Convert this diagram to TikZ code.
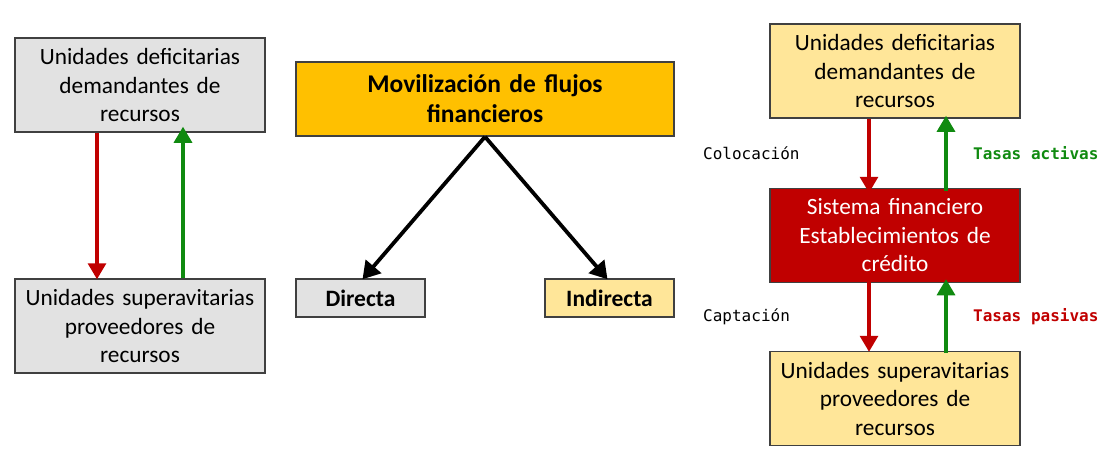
\documentclass[tikz,border=0pt]{standalone}
\usepackage{fontspec}
\setmainfont{Carlito}
\newfontfamily\monofont{DejaVu Sans Mono}
\usetikzlibrary{arrows.meta}
\definecolor{boxgray}{HTML}{E2E2E2}
\definecolor{boxyellow}{HTML}{FFE699}
\definecolor{boxorange}{HTML}{FFC000}
\definecolor{boxred}{HTML}{C00000}
\definecolor{arrred}{HTML}{C00000}
\definecolor{arrgreen}{HTML}{108A10}
\definecolor{edge}{HTML}{404040}
\tikzset{
  card/.style={draw=edge, line width=1.5pt, minimum width=250pt, minimum height=94pt,
    text width=246pt, align=center, inner sep=0pt,
    font=\fontsize{23.3}{28.5}\selectfont},
  graycard/.style={card, fill=boxgray},
  yellowcard/.style={card, fill=boxyellow},
  redcard/.style={card, fill=boxred, text=white},
  titlecard/.style={draw=edge, line width=1.5pt, fill=boxorange, minimum width=378pt,
    minimum height=74pt, text width=370pt, align=center, inner sep=0pt,
    font=\fontsize{25.5}{30}\selectfont\bfseries},
  smallcard/.style={draw=edge, line width=1.5pt, minimum width=129pt, minimum height=38pt,
    inner sep=0pt, font=\fontsize{23.5}{26}\selectfont\bfseries},
  updown/.style={line width=3.2pt, -{Triangle[width=18pt,length=16pt]}},
  redarrow/.style={updown, draw=arrred, fill=arrred},
  greenarrow/.style={updown, draw=arrgreen, fill=arrgreen},
  blackarrow/.style={line width=3.8pt, draw=black, -{Triangle[width=20pt,length=17pt]}},
  monolabel/.style={font=\fontsize{16}{18}\selectfont\monofont, inner sep=0pt, anchor=west},
}
\begin{document}
\begin{tikzpicture}[x=1pt,y=-1pt]
\useasboundingbox (0,0) rectangle (1100,450);
% left column
\node[graycard] (lt) at (140,85) {Unidades deficitarias\\demandantes de\\recursos};
\node[graycard] (lb) at (140,326) {Unidades superavitarias\\proveedores de\\recursos};
\coordinate (la) at (97,0);
\coordinate (lg) at (183,0);
\draw[redarrow] (la |- lt.south) -- ([yshift=-1pt]la |- lb.north);
\draw[greenarrow] (lg |- lb.north) -- ([yshift=6pt]lg |- lt.south);
% center
\node[titlecard] (mt) at (485,99) {Movilización de flujos\\financieros};
\node[smallcard, fill=boxgray] (dir) at (360.5,298) {Directa};
\node[smallcard, fill=boxyellow] (ind) at (609.5,298) {Indirecta};
\draw[blackarrow] (mt.south) -- ([xshift=2pt,yshift=-1pt]dir.north);
\draw[blackarrow] (mt.south) -- ([xshift=-2pt,yshift=-1pt]ind.north);
% right column
\node[yellowcard] (rt) at (895,71) {Unidades deficitarias\\demandantes de\\recursos};
\node[redcard] (rm) at (895,235.5) {Sistema financiero\\Establecimientos de\\crédito};
\node[yellowcard] (rb) at (895,398.5) {Unidades superavitarias\\proveedores de\\recursos};
\coordinate (ra) at (869,0);
\coordinate (rg) at (946,0);
\draw[redarrow] (ra |- rt.south) -- ([yshift=-5pt]ra |- rm.north);
\draw[greenarrow] ([yshift=-3pt]rg |- rm.north) -- ([yshift=3pt]rg |- rt.south);
\draw[redarrow] ([yshift=4pt]ra |- rm.south) -- ([yshift=-1pt]ra |- rb.north);
\draw[greenarrow] ([yshift=-2pt]rg |- rb.north) -- ([yshift=4pt]rg |- rm.south);
\node[monolabel] (colo) at (703,153) {Colocación};
\node[monolabel, text=arrgreen, font=\fontsize{16}{18}\selectfont\monofont\bfseries] (tact) at (973,153) {Tasas activas};
\node[monolabel] (capt) at (703,317) {Captación};
\node[monolabel, text=arrred, font=\fontsize{16}{18}\selectfont\monofont\bfseries] (tpas) at (973,317) {Tasas pasivas};
\end{tikzpicture}
\end{document}
